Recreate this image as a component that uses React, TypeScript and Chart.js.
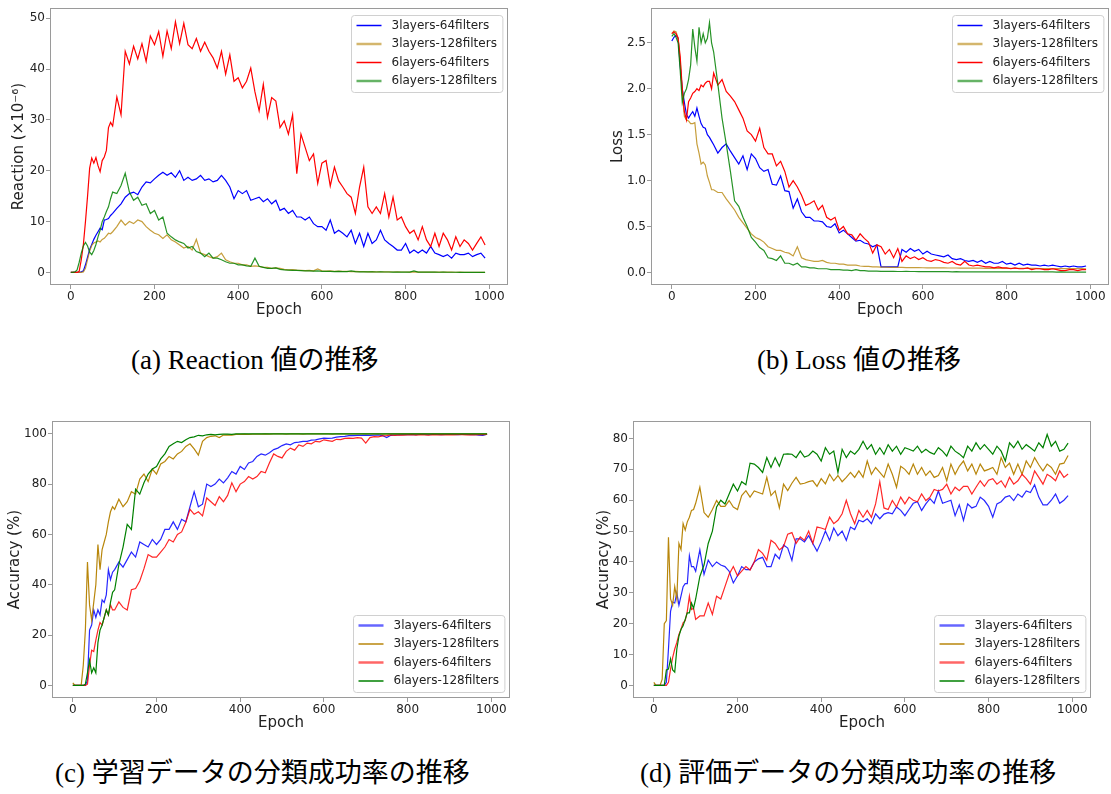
import React, { useEffect, useRef } from "react";
import { Chart, registerables } from "chart.js";

Chart.register(...registerables);

// ---------- shared x grid (epochs) ----------
const EPOCHS: number[] = [];
for (let e = 0; e < 100; e += 5) EPOCHS.push(e);
for (let e = 100; e < 1000; e += 10) EPOCHS.push(e);

const LABELS = ["3layers-64filters", "3layers-128filters", "6layers-64filters", "6layers-128filters"];
const X_TICKS = [0, 200, 400, 600, 800, 1000];

// ---------- (a) Reaction ----------
const A_BLUE = [
  0, 0, 0, 0, 0, 0.1, 0.3, 1.5, 3, 4.5, 5.5, 6.5, 7.3, 8, 8.7, 8.4, 10.3, 10.4, 10.6, 11.2,
  11.6, 12.6, 13.5, 14.8, 15.5, 15.8, 15.3, 16.8, 17.8, 17.6,
  18.4, 19.1, 19.7, 19.1, 19.6, 18.7, 20, 18.1, 18.7, 18.1,
  18.4, 19.1, 18.1, 18.4, 17.8, 18.1, 19.1, 18.1, 16.8, 14.5,
  16.1, 15.5, 16.1, 14.2, 14.5, 14.8, 13.9, 14.5, 13.5, 14.2,
  12.2, 12.6, 11.6, 12.2, 10.9, 10.9, 10.3, 10.9, 9.6, 9,
  9, 8.3, 10.3, 7.7, 8.3, 7.7, 7, 8.3, 5.7, 7.7,
  5.1, 7.7, 5.7, 6.4, 8.3, 6.4, 5.7, 5.1, 4.4, 4.4,
  5.7, 3.8, 4.4, 3.8, 4.4, 3.8, 5.1, 3.8, 3.5, 3.1,
  3.5, 2.8, 3.8, 3.5, 3.5, 3.8, 3.1, 3.5, 3.8, 2.8,
];
const A_GOLD = [
  0, 0, 0, 0, 0, 0, 0.1, 0.8, 2.5, 4.2, 5.3, 5.8, 6, 6.2, 6, 6.5, 6.7, 7.2, 7.7, 7.6,
  8, 9, 10.3, 9.3, 10, 9.6, 10.3, 10, 9, 8.3,
  7.7, 7.4, 6.7, 7.4, 6.4, 6, 5.4, 4.8, 5.1, 4.4,
  6.5, 3.8, 3.5, 3.1, 2.8, 3.1, 3.8, 2.5, 2.1, 1.8,
  1.8, 1.5, 1.5, 1.2, 1.3, 1.2, 1, 1, 0.8, 0.9,
  0.8, 0.6, 0.5, 0.55, 0.45, 0.4, 0.35, 0.4, 0.3, 0.7,
  0.3, 0.25, 0.3, 0.2, 0.25, 0.2, 0.2, 0.15, 0.2, 0.15,
  0.15, 0.1, 0.15, 0.1, 0.1, 0.1, 0.1, 0.08, 0.1, 0.08,
  0.08, 0.06, 0.1, 0.06, 0.05, 0.06, 0.05, 0.05, 0.04, 0.05,
  0.04, 0.04, 0.03, 0.04, 0.03, 0.03, 0.03, 0.03, 0.02, 0.02,
];
const A_RED = [
  0, 0, 0, 0, 0.2, 2.5, 5.5, 10, 15, 20.5, 22.5, 21.5, 22.6, 21, 19.8, 22, 22.7, 24, 28.5, 29.5,
  28.8, 34.5, 31, 43.5, 41, 44.5, 42, 45, 41.5, 46.5,
  44.8, 47.4, 42.5, 47.5, 44, 49.3, 45, 49, 44.8, 44,
  46, 43.5, 45.3, 43.5, 42.2, 40.2, 43.5, 39, 42.8, 37.6,
  38.3, 36.3, 37.6, 40.2, 35.5, 31.8, 37, 30.5, 34.4, 33.7,
  28.5, 29.8, 27.2, 31, 19.4, 27.2, 24.6, 22, 23.3, 17.5,
  21.5, 22, 17, 20.7, 18, 16.8, 15.5, 14.8, 11.6, 16.8,
  20.7, 12.9, 11.6, 12.9, 11.6, 15.5, 10.9, 14.8, 10.3, 10.9,
  9, 7.7, 8.3, 6.4, 9, 6.4, 5.1, 7.7, 5.1, 7.7,
  6.4, 4.4, 7, 5.1, 6.4, 5.7, 4.4, 5.7, 7, 5.4,
];
const A_GREEN = [
  0, 0, 0.1, 0.5, 2, 3.8, 5.2, 5.9, 5.2, 4, 3.5, 4.3, 5.5, 7, 8.3, 10, 10.9, 12, 12.9, 14.5,
  15.8, 15.5, 17.1, 19.5, 15.8, 14.2, 14.8, 13.2, 13.5, 11.6,
  12.2, 10.3, 10.9, 7.7, 7, 6.4, 6, 5.7, 4.8, 5.1,
  4.1, 3.8, 3.1, 3.8, 2.8, 2.8, 2.5, 2.1, 1.8, 1.8,
  1.5, 1.5, 1.3, 1.2, 2.8, 1.2, 1, 0.8, 0.8, 0.9,
  0.6, 0.5, 0.45, 0.4, 0.4, 0.35, 0.3, 0.3, 0.25, 0.3,
  0.2, 0.2, 0.2, 0.15, 0.2, 0.15, 0.15, 0.3, 0.15, 0.1,
  0.12, 0.1, 0.1, 0.08, 0.1, 0.08, 0.08, 0.06, 0.08, 0.06,
  0.06, 0.05, 0.3, 0.05, 0.05, 0.04, 0.04, 0.04, 0.03, 0.04,
  0.03, 0.03, 0.03, 0.02, 0.03, 0.02, 0.02, 0.02, 0.02, 0.02,
];

// ---------- (b) Loss ----------
const B_BLUE = [
  2.52, 2.56, 2.58, 2.55, 2.25, 2.0, 1.85, 1.72, 1.68, 1.72, 1.75, 1.7, 1.79, 1.7, 1.62, 1.58, 1.57, 1.5, 1.47, 1.43,
  1.39, 1.3, 1.36, 1.4, 1.32, 1.25, 1.18, 1.27, 1.12, 1.29,
  1.24, 1.14, 1.1, 1.12, 0.96, 0.95, 1.05, 0.89, 0.88, 0.7,
  0.8, 0.66, 0.6, 0.6, 0.56, 0.56, 0.55, 0.5, 0.49, 0.53,
  0.43, 0.46, 0.42, 0.38, 0.34, 0.35, 0.32, 0.31, 0.28, 0.3,
  0.06, 0.06, 0.06, 0.06, 0.06, 0.25, 0.22, 0.26, 0.23, 0.25,
  0.2, 0.23, 0.2, 0.19, 0.18, 0.17, 0.19, 0.15, 0.14, 0.15,
  0.13, 0.12, 0.13, 0.11, 0.13, 0.1, 0.12, 0.1, 0.1, 0.12,
  0.09, 0.1, 0.08, 0.1, 0.08, 0.09, 0.08, 0.08, 0.07, 0.08,
  0.07, 0.08, 0.07, 0.06, 0.07, 0.06, 0.07, 0.06, 0.06, 0.07,
];
const B_GOLD = [
  2.6, 2.63, 2.62, 2.55, 2.3, 1.95, 1.7, 1.66, 1.65, 1.62, 1.62, 1.63, 1.4, 1.3, 1.18, 1.2, 1.17, 1.05, 0.98, 0.9,
  0.9, 0.87, 0.87, 0.8, 0.74, 0.68, 0.6, 0.54, 0.48, 0.42,
  0.38, 0.36, 0.33, 0.28, 0.26, 0.24, 0.24, 0.22, 0.21, 0.18,
  0.28, 0.16, 0.14, 0.13, 0.12, 0.12, 0.13, 0.11, 0.1, 0.1,
  0.09, 0.09, 0.08, 0.08, 0.08, 0.07, 0.065, 0.065, 0.06, 0.06,
  0.058, 0.057, 0.056, 0.055, 0.055, 0.054, 0.053, 0.053, 0.052, 0.052,
  0.051, 0.05, 0.05, 0.05, 0.049, 0.049, 0.048, 0.048, 0.048, 0.047,
  0.047, 0.047, 0.046, 0.046, 0.046, 0.045, 0.045, 0.045, 0.045, 0.044,
  0.044, 0.044, 0.044, 0.043, 0.043, 0.043, 0.043, 0.043, 0.042, 0.042,
  0.042, 0.042, 0.042, 0.042, 0.041, 0.041, 0.041, 0.041, 0.041, 0.04,
];
const B_RED = [
  2.6, 2.62, 2.6, 2.55, 2.35, 2.0, 1.75, 1.66, 1.86, 1.9, 1.95, 1.97, 2.0, 1.98, 2.04, 2.02, 2.06, 2.08, 2.08, 2.0,
  2.17, 2.04, 2.1, 1.97, 1.92, 1.86, 1.77, 1.68, 1.54, 1.5,
  1.43, 1.57, 1.36, 1.29, 1.29, 1.16, 1.21, 1.1, 0.93, 1.0,
  0.93, 0.84, 0.73, 0.75, 0.78, 0.68, 0.73, 0.6, 0.57, 0.6,
  0.46, 0.5, 0.42, 0.41, 0.35, 0.42, 0.37, 0.33, 0.21, 0.3,
  0.28, 0.2, 0.25, 0.16, 0.26, 0.12, 0.18, 0.15, 0.17, 0.14,
  0.16, 0.13, 0.12, 0.14, 0.13, 0.11, 0.1, 0.12, 0.09, 0.08,
  0.12, 0.08, 0.07, 0.08, 0.07, 0.06, 0.06, 0.05, 0.06, 0.05,
  0.05, 0.04, 0.05, 0.04, 0.04, 0.05, 0.03, 0.04, 0.04, 0.03,
  0.03, 0.04, 0.03, 0.02, 0.02, 0.03, 0.03, 0.02, 0.03, 0.03,
];
const B_GREEN = [
  2.57, 2.6, 2.56, 2.5, 2.2, 1.85, 1.95, 2.0, 2.1, 2.26, 2.65, 2.45, 2.3, 2.67, 2.5, 2.6, 2.5, 2.55, 2.72, 2.5,
  2.4, 2.05, 1.68, 1.4, 1.1, 0.78, 0.72, 0.6, 0.5, 0.38,
  0.33, 0.27, 0.24, 0.16, 0.15, 0.13, 0.18, 0.1, 0.1, 0.08,
  0.1, 0.06, 0.06, 0.05, 0.05, 0.04, 0.04, 0.04, 0.03, 0.03,
  0.03, 0.025, 0.025, 0.02, 0.03, 0.02, 0.02, 0.015, 0.015, 0.015,
  0.012, 0.012, 0.011, 0.012, 0.01, 0.01, 0.011, 0.01, 0.01, 0.009,
  0.009, 0.009, 0.008, 0.009, 0.008, 0.008, 0.008, 0.007, 0.008, 0.007,
  0.007, 0.007, 0.007, 0.006, 0.007, 0.006, 0.006, 0.006, 0.006, 0.006,
  0.006, 0.005, 0.006, 0.005, 0.005, 0.005, 0.005, 0.005, 0.005, 0.005,
  0.005, 0.005, 0.004, 0.005, 0.004, 0.004, 0.004, 0.004, 0.004, 0.004,
];

// ---------- (c) training accuracy ----------
const C_BLUE = [
  0, 0, 0, 0, 0, 0, 0, 2, 22, 24, 30, 27, 30, 28, 34, 33, 36, 46, 42, 45,
  46, 49, 47, 50, 53, 51, 57, 56, 55, 58,
  56, 58, 62, 62, 65, 62, 66, 65, 71, 77,
  71, 72, 80, 79, 80, 82, 80.5, 82.5, 85, 84,
  87, 85.8, 88.4, 89, 91, 92, 91.5, 92.5, 93.7, 94.3,
  95.3, 96, 95.6, 96.5, 96.7, 97, 97, 97.5, 97.6, 98,
  98.3, 98.2, 98.3, 98.7, 98.9, 99, 99.3, 99.3, 99.4, 99.4,
  99.5, 99.4, 99.5, 99.6, 99.3, 98.5, 99.4, 99.6, 99.6, 99.7,
  99.7, 99.8, 99.7, 99.8, 99.8, 99.7, 99.8, 99.8, 99.7, 99.8,
  99.8, 99.8, 99.7, 99.8, 99.8, 99.7, 99.8, 99.5, 99.4, 99.8,
];
const C_GOLD = [
  1, 0, 0, 0, 0, 8, 22, 49, 32, 26, 33, 40, 56, 46, 54, 57, 60, 65, 69, 71,
  70, 74, 71, 73, 77, 76, 82, 84, 81, 86,
  84, 88, 89, 91, 90, 92, 93, 95, 96, 94,
  91.5, 97, 98.5, 99, 99.2, 98.5, 99.5, 99.6, 99.5, 99.8,
  99.8, 99.9, 99.8, 99.9, 99.9, 99.9, 100, 99.9, 100, 100,
  100, 99.9, 100, 100, 100, 99.9, 100, 100, 100, 100,
  100, 100, 99.9, 100, 100, 100, 100, 100, 100, 100,
  100, 100, 100, 100, 99.9, 100, 100, 100, 100, 100,
  100, 100, 100, 100, 100, 100, 100, 100, 100, 100,
  100, 100, 100, 100, 100, 100, 100, 100, 100, 100,
];
const C_RED = [
  0, 0, 0, 0, 0, 0, 0, 0.5, 8, 14, 13.5, 18, 22, 25, 24, 27, 30, 28, 32, 30,
  30, 33.2, 31, 30, 38, 38.5, 41.5, 46.4, 52, 51,
  51, 53, 55, 58, 57, 60, 61, 64.8, 70, 68,
  69, 67.4, 74.5, 73, 71.5, 75, 73, 75.5, 80.5, 77,
  80, 81, 83, 82, 83, 85, 84.5, 88.5, 92, 91,
  90.4, 93, 94.3, 93.5, 95.6, 95, 96.3, 96, 97, 96.8,
  97.6, 97.3, 97, 97.8, 97.7, 98.2, 98.3, 98.2, 98.5, 98.3,
  96.3, 98.5, 98.9, 98.8, 99.2, 99.3, 99.6, 99.4, 99.6, 99.5,
  99.6, 99.7, 99.5, 99.7, 99.6, 99.5, 99.7, 99.6, 99.7, 99.6,
  99.7, 99.6, 99.7, 99.7, 99.6, 99.7, 99.6, 99.7, 99.7, 99.8,
];
const C_GREEN = [
  0, 0, 0, 0, 0, 0, 0.5, 5, 10, 5, 7, 5, 17, 22, 24, 27, 30, 28, 33, 37,
  38, 48, 55, 64, 62, 78, 76, 80.5, 84, 86,
  87, 90, 92, 95, 96, 97, 96.5, 97.6, 98.5, 98.8,
  99.4, 99.2, 99.6, 99.8, 99.6, 99.8, 99.9, 99.9, 99.8, 100,
  100, 100, 100, 100, 100, 100, 100, 100, 100, 100,
  100, 100, 100, 100, 100, 100, 100, 100, 100, 100,
  100, 100, 100, 100, 100, 100, 100, 100, 100, 100,
  100, 100, 100, 100, 100, 100, 100, 100, 100, 100,
  100, 100, 100, 100, 100, 100, 100, 100, 100, 100,
  100, 100, 100, 100, 100, 100, 100, 100, 100, 100,
];

// ---------- (d) evaluation accuracy ----------
const D_BLUE = [
  0, 0, 0, 0, 0, 0, 1, 11.8, 24, 27, 26.7, 30, 26, 29, 32, 33, 33, 42, 38.5, 38.5,
  37, 43.9, 36, 40.6, 38.5, 40, 39, 38.5, 37, 33.2,
  35.5, 38.5, 37.5, 37.5, 40, 41, 41.5, 38.5, 38.5, 42.5,
  41, 45.5, 44.5, 40.5, 47.5, 47.5, 46.5, 48.5, 46, 43.5,
  46.5, 50, 47, 51, 48.5, 50, 47, 51.3, 50.5, 53.5,
  53, 54, 52.4, 55.6, 54, 55.5, 56, 55.6, 57.8, 56.7,
  55, 57, 59, 59.5, 56.7, 58.8, 60.5, 59, 63, 59,
  59.5, 60, 55, 58.5, 53.5, 58.8, 57.5, 58, 61, 59.9,
  58, 54.5, 58.8, 59.5, 61, 61.5, 59.9, 62, 61, 63,
  62.5, 65, 61, 58.5, 58.5, 60, 62, 59, 60, 61.5,
];
const D_GOLD = [
  1, 0, 0, 0, 2, 20, 21, 48, 28, 26, 32, 28, 46, 44, 52.4, 50.3, 53, 54.5, 56.7, 57,
  59, 64.2, 56, 54.5, 57, 59.9, 58, 58, 59.9, 57.8,
  57, 61.5, 63.1, 61, 63, 62.5, 62, 67.4, 61.5, 63,
  57.5, 65.2, 63.1, 65.5, 67.4, 65.2, 65.5, 66, 66.3, 64.5,
  67, 65.3, 68.4, 66.3, 68, 66, 67.4, 69, 67.4, 69.5,
  67.4, 72.7, 68.4, 70.6, 69, 67.4, 71.7, 68.4, 64.2, 71,
  70, 68.4, 71.7, 68.4, 70.6, 68, 69.5, 67.4, 68, 70.6,
  66.3, 71.7, 68.4, 71, 72.7, 69.5, 71.7, 68.4, 71.7, 69.5,
  70, 70.6, 68.4, 73.8, 70.6, 72, 68.4, 71.7, 68.4, 72.7,
  70.6, 73.8, 71.5, 69.5, 71.7, 70.6, 68.4, 71.7, 72, 74.5,
];
const D_RED = [
  0, 0, 0, 0, 0, 0, 0, 1, 5.3, 9, 11.8, 13.9, 16.5, 18.2, 20.3, 21, 24, 28.9, 24.6, 25,
  21.4, 22.5, 22.5, 26.7, 23, 28.9, 28, 32, 36, 38.5,
  35.5, 37, 38.5, 37.4, 40, 44, 42.8, 40.6, 47, 46,
  43.9, 45, 49, 49.5, 46, 48.1, 47, 50, 46, 51.3,
  51, 50.5, 54.5, 52.4, 53.5, 55.6, 60, 55.6, 52.4, 56.7,
  54.5, 56.7, 54.5, 58.8, 66, 57.5, 57, 59.9, 57.8, 61,
  58.8, 61, 60, 59.5, 62, 59.9, 61, 63.5, 63, 63.5,
  65.2, 62, 64.2, 63.1, 64.5, 64.5, 62, 64.2, 66.3, 64.5,
  66.5, 67, 65.2, 66.3, 64.2, 67.4, 65.2, 66.3, 68.4, 67,
  65.2, 69.5, 67.4, 65.2, 68.4, 67.5, 66.3, 69.5, 67.4, 68.5,
];
const D_GREEN = [
  0, 0, 0, 0, 0, 0, 5, 5.3, 8.6, 5, 4.3, 11.8, 16, 18.2, 19.3, 21.4, 23.5, 23.5, 26.7, 25,
  28, 35.3, 39, 46, 50, 57.8, 60, 58.8, 62, 65.2,
  63, 66, 65, 72, 71.7, 70.6, 69, 73.8, 70.6, 73.8,
  71, 74.9, 75, 74.9, 73.8, 75.9, 74, 74.5, 75.9, 74.9,
  72.7, 77, 74.9, 75.9, 69, 76.5, 73.8, 75.9, 74.9, 76.5,
  79.1, 76.5, 78, 74.9, 77, 74.9, 78, 75.9, 77.5, 74.9,
  77, 76.5, 75.9, 77.5, 75.4, 76.5, 75.5, 74.9, 77, 75.9,
  74.3, 77.5, 75.9, 75, 73.8, 77.5, 75.9, 78.6, 76.5, 78,
  76.5, 74.9, 77.5, 75.9, 72.7, 78.6, 77, 79.1, 76.5, 78,
  77, 75.9, 78.6, 77, 81.3, 77.5, 79.1, 75.9, 76.5, 78.5,
];

// ---------- styling ----------
const RGB = ["0,0,255", "184,134,11", "255,0,0", "0,128,0"];
const SPINE = "#9a9a9a";
const TEXT = "#222222";
const FONT = "'DejaVu Sans', sans-serif";
const X_MIN = -49.75;
const X_MAX = 1044.75;
const AXIS_W = 50;
const AXIS_H = 50;
const PAD_R = 10;
const PAD_T = 6;

type Handle = { w: number; a: number };
const THIN: Handle = { w: 1.5, a: 1 };
const THICK: Handle = { w: 2.5, a: 0.6 };

type PanelSpec = {
  left: number;
  top: number;
  width: number;
  height: number;
  yMin: number;
  yMax: number;
  yTicks: number[];
  yDecimals: number;
  yTitle: string;
  yTitlePad: number;
  series: number[][];
  lineAlpha: number[];
  handles: Handle[];
  legendAnchor: "top" | "bottom";
};

const PANELS: PanelSpec[] = [
  {
    left: 50, top: 6, width: 458, height: 279,
    yMin: -2.475, yMax: 51.975, yTicks: [0, 10, 20, 30, 40, 50], yDecimals: 0,
    yTitle: "Reaction (\u00d710\u207b\u2076)", yTitlePad: 10,
    series: [A_BLUE, A_GOLD, A_RED, A_GREEN],
    lineAlpha: [1, 0.8, 1, 0.85],
    handles: [THIN, THICK, THIN, THICK],
    legendAnchor: "top",
  },
  {
    left: 651, top: 6, width: 458, height: 279,
    yMin: -0.137, yMax: 2.877, yTicks: [0, 0.5, 1, 1.5, 2, 2.5], yDecimals: 1,
    yTitle: "Loss", yTitlePad: 8,
    series: [B_BLUE, B_GOLD, B_RED, B_GREEN],
    lineAlpha: [1, 0.8, 1, 0.85],
    handles: [THIN, THICK, THIN, THICK],
    legendAnchor: "top",
  },
  {
    left: 52, top: 419, width: 458, height: 279,
    yMin: -5, yMax: 105, yTicks: [0, 20, 40, 60, 80, 100], yDecimals: 0,
    yTitle: "Accuracy (%)", yTitlePad: 4,
    series: [C_BLUE, C_GOLD, C_RED, C_GREEN],
    lineAlpha: [0.85, 1, 0.85, 1],
    handles: [THICK, THIN, THICK, THIN],
    legendAnchor: "bottom",
  },
  {
    left: 633, top: 419, width: 458, height: 279,
    yMin: -4.075, yMax: 85.6, yTicks: [0, 10, 20, 30, 40, 50, 60, 70, 80], yDecimals: 0,
    yTitle: "Accuracy (%)", yTitlePad: 12,
    series: [D_BLUE, D_GOLD, D_RED, D_GREEN],
    lineAlpha: [0.85, 1, 0.85, 1],
    handles: [THICK, THIN, THICK, THIN],
    legendAnchor: "bottom",
  },
];

const CAPTIONS = [
  { text: "(a) Reaction 値の推移", left: 131, top: 345 },
  { text: "(b) Loss 値の推移", left: 757, top: 345 },
  { text: "(c) 学習データの分類成功率の推移", left: 55, top: 758 },
  { text: "(d) 評価データの分類成功率の推移", left: 640, top: 758 },
];

const framePlugin = {
  id: "frame",
  afterDraw(chart: any) {
    const { ctx, chartArea: a } = chart;
    ctx.save();
    ctx.strokeStyle = SPINE;
    ctx.lineWidth = 1;
    ctx.strokeRect(
      Math.round(a.left) + 0.5,
      Math.round(a.top) + 0.5,
      Math.round(a.right - a.left) - 1,
      Math.round(a.bottom - a.top) - 1
    );
    ctx.restore();
  },
};

function makeLegendPlugin(handles: Handle[], anchor: "top" | "bottom") {
  return {
    id: "boxLegend",
    afterDraw(chart: any) {
      const { ctx, chartArea: a } = chart;
      ctx.save();
      ctx.font = `12px ${FONT}`;
      const maxW = Math.max(...LABELS.map((t) => ctx.measureText(t).width));
      const w = 5 + 25 + 10 + maxW + 6;
      const h = 77;
      const x = Math.round(a.right - 6 - w) + 0.5;
      const y = Math.round(anchor === "top" ? a.top + 6.5 : a.bottom - 6 - h) + 0.5;
      const r = 3;
      ctx.beginPath();
      ctx.moveTo(x + r, y);
      ctx.lineTo(x + w - r, y);
      ctx.arcTo(x + w, y, x + w, y + r, r);
      ctx.lineTo(x + w, y + h - r);
      ctx.arcTo(x + w, y + h, x + w - r, y + h, r);
      ctx.lineTo(x + r, y + h);
      ctx.arcTo(x, y + h, x, y + h - r, r);
      ctx.lineTo(x, y + r);
      ctx.arcTo(x, y, x + r, y, r);
      ctx.closePath();
      ctx.fillStyle = "rgba(255,255,255,0.85)";
      ctx.fill();
      ctx.strokeStyle = "#d0d0d0";
      ctx.lineWidth = 1;
      ctx.stroke();
      LABELS.forEach((t, i) => {
        const cy = y + 10 + 18.5 * i;
        ctx.beginPath();
        ctx.strokeStyle = `rgba(${RGB[i]},${handles[i].a})`;
        ctx.lineWidth = handles[i].w;
        ctx.moveTo(x + 5, cy);
        ctx.lineTo(x + 30, cy);
        ctx.stroke();
        ctx.fillStyle = TEXT;
        ctx.textBaseline = "middle";
        ctx.textAlign = "left";
        ctx.fillText(t, x + 40, cy);
      });
      ctx.restore();
    },
  };
}

function Panel({ spec }: { spec: PanelSpec }) {
  const ref = useRef<HTMLCanvasElement | null>(null);
  const cw = AXIS_W + spec.width + PAD_R;
  const ch = PAD_T + spec.height + AXIS_H;

  useEffect(() => {
    if (!ref.current) return;
    const tickFont = { family: FONT, size: 12 };
    const titleFont = { family: FONT, size: 15 };
    const chart = new Chart(ref.current, {
      type: "line",
      data: {
        datasets: spec.series.map((vals, i) => ({
          label: LABELS[i],
          data: EPOCHS.map((e, k) => ({ x: e, y: vals[k] })),
          borderColor: `rgba(${RGB[i]},${spec.lineAlpha[i]})`,
          backgroundColor: `rgba(${RGB[i]},${spec.lineAlpha[i]})`,
          borderWidth: 1.2,
          pointRadius: 0,
          tension: 0,
          fill: false,
          order: 3 - i,
        })),
      },
      options: {
        responsive: false,
        animation: false,
        events: [],
        layout: { padding: { left: 0, right: PAD_R, top: PAD_T, bottom: 0 } },
        plugins: { legend: { display: false }, tooltip: { enabled: false } },
        scales: {
          x: {
            type: "linear",
            min: X_MIN,
            max: X_MAX,
            afterFit: (s: any) => {
              s.height = AXIS_H;
            },
            afterBuildTicks: (s: any) => {
              s.ticks = X_TICKS.map((v) => ({ value: v }));
            },
            ticks: {
              font: tickFont,
              color: TEXT,
              padding: 1,
              maxRotation: 0,
              autoSkip: false,
              callback: (v: any) => String(v),
            },
            grid: { drawOnChartArea: false, drawTicks: true, tickLength: 4, color: SPINE },
            border: { display: false },
            title: {
              display: true,
              text: "Epoch",
              font: titleFont,
              color: TEXT,
              padding: { top: 0, bottom: 16 },
            },
          },
          y: {
            type: "linear",
            min: spec.yMin,
            max: spec.yMax,
            afterFit: (s: any) => {
              s.width = AXIS_W;
            },
            afterBuildTicks: (s: any) => {
              s.ticks = spec.yTicks.map((v) => ({ value: v }));
            },
            ticks: {
              font: tickFont,
              color: TEXT,
              padding: 1,
              autoSkip: false,
              callback: (v: any) => Number(v).toFixed(spec.yDecimals),
            },
            grid: { drawOnChartArea: false, drawTicks: true, tickLength: 4, color: SPINE },
            border: { display: false },
            title: {
              display: true,
              text: spec.yTitle,
              font: titleFont,
              color: TEXT,
              padding: { top: spec.yTitlePad, bottom: 0 },
            },
          },
        },
      } as any,
      plugins: [framePlugin, makeLegendPlugin(spec.handles, spec.legendAnchor)],
    });
    return () => chart.destroy();
  }, [spec]);

  return (
    <canvas
      ref={ref}
      width={cw}
      height={ch}
      style={{
        position: "absolute",
        left: spec.left - AXIS_W,
        top: spec.top - PAD_T,
        width: cw,
        height: ch,
      }}
    />
  );
}

export default function App() {
  return (
    <div
      style={{
        position: "absolute",
        left: 0,
        top: 0,
        width: 1111,
        height: 794,
        background: "#ffffff",
        overflow: "hidden",
      }}
    >
      {PANELS.map((p, i) => (
        <Panel key={i} spec={p} />
      ))}
      {CAPTIONS.map((c, i) => (
        <div
          key={"cap" + i}
          style={{
            position: "absolute",
            left: c.left,
            top: c.top,
            fontFamily: "'Liberation Serif', 'Noto Sans CJK JP', serif",
            fontSize: 27,
            lineHeight: "30px",
            whiteSpace: "nowrap",
            color: "#000",
          }}
        >
          {c.text}
        </div>
      ))}
    </div>
  );
}
